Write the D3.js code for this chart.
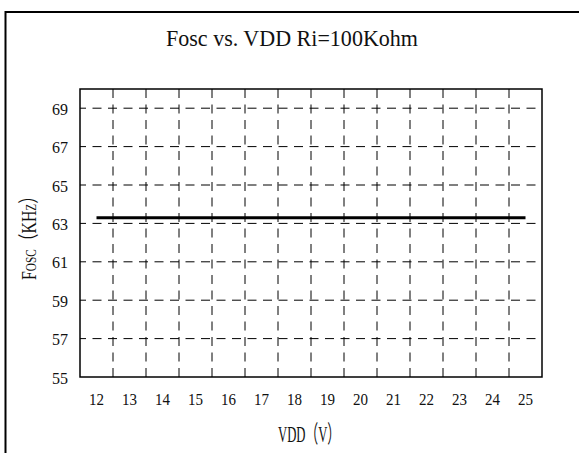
<!DOCTYPE html>
<html>
<head>
<meta charset="utf-8">
<title>Fosc vs. VDD</title>
<script src="https://cdn.jsdelivr.net/npm/d3@7"></script>
<style>
  html, body { margin: 0; padding: 0; background: #fff; }
  svg { display: block; }
  text { font-family: "Liberation Serif", "DejaVu Serif", "Noto Sans CJK SC", serif; fill: #111; }
</style>
</head>
<body>
<svg id="chart" width="579" height="453"></svg>
<script>
const vddCategories = [12, 13, 14, 15, 16, 17, 18, 19, 20, 21, 22, 23, 24, 25];
const foscValues = [63.3, 63.3, 63.3, 63.3, 63.3, 63.3, 63.3, 63.3, 63.3, 63.3, 63.3, 63.3, 63.3, 63.3];
const yTickValues = [55, 57, 59, 61, 63, 65, 67, 69];
const yDomain = [55, 70];
const titleText = "Fosc vs. VDD Ri=100Kohm";
const xLabelText = "VDD（V）";
const yLabelText = "Fosc（KHz）";

(function () {
  "use strict";

  const svg = d3.select("#chart");
  const plot = { left: 80, right: 542, top: 89, bottom: 377 };

  const x = d3.scaleBand().domain(vddCategories).range([plot.left, plot.right]).padding(0);
  const y = d3.scaleLinear().domain(yDomain).range([plot.bottom, plot.top]);

  // outer frame (runs off the right / bottom of the picture)
  svg.append("rect")
    .attr("x", 5.5).attr("y", 12)
    .attr("width", 620).attr("height", 500)
    .attr("fill", "none").attr("stroke", "#000").attr("stroke-width", 2);

  svg.append("text")
    .attr("x", 166).attr("y", 45.5)
    .attr("font-size", 23)
    .attr("textLength", 252)
    .attr("lengthAdjust", "spacingAndGlyphs")
    .text(titleText);

  // horizontal dashed grid
  svg.append("g")
    .selectAll("line")
    .data(yTickValues.filter((v) => v !== yDomain[0]))
    .enter()
    .append("line")
    .attr("x1", plot.left).attr("x2", plot.right)
    .attr("y1", (d) => y(d)).attr("y2", (d) => y(d))
    .attr("stroke", "#000").attr("stroke-width", 1)
    .attr("stroke-dasharray", "9,6.5")
    .attr("stroke-dashoffset", 3);

  // vertical dashed grid on category boundaries
  const bounds = vddCategories.slice(1).map((c) => x(c));
  svg.append("g")
    .selectAll("line")
    .data(bounds)
    .enter()
    .append("line")
    .attr("x1", (d) => d).attr("x2", (d) => d)
    .attr("y1", plot.bottom).attr("y2", plot.top)
    .attr("stroke", "#000").attr("stroke-width", 1)
    .attr("stroke-dasharray", "9,6.5");

  // plot border
  svg.append("rect")
    .attr("x", plot.left).attr("y", plot.top)
    .attr("width", plot.right - plot.left).attr("height", plot.bottom - plot.top)
    .attr("fill", "none").attr("stroke", "#000").attr("stroke-width", 1.5);

  // y tick labels
  const yAxis = d3.axisLeft(y).tickValues(yTickValues).tickSize(0).tickPadding(12);
  const yG = svg.append("g").attr("transform", `translate(${plot.left},0)`).call(yAxis);
  yG.select(".domain").remove();
  yG.selectAll("text")
    .attr("font-family", null)
    .attr("font-size", 17)
    .attr("dy", "0.36em")
    .attr("textLength", 16)
    .attr("lengthAdjust", "spacingAndGlyphs");

  // x tick labels at category centres
  const xAxis = d3.axisBottom(x).tickSize(0).tickPadding(16);
  const xG = svg.append("g").attr("transform", `translate(0,${plot.bottom})`).call(xAxis);
  xG.select(".domain").remove();
  xG.selectAll("text")
    .attr("font-family", null)
    .attr("font-size", 17)
    .attr("dy", "0.72em")
    .attr("textLength", 15)
    .attr("lengthAdjust", "spacingAndGlyphs");

  // data line
  const line = d3.line()
    .x((d, i) => x(vddCategories[i]) + x.bandwidth() / 2)
    .y((d) => y(d));
  svg.append("path")
    .datum(foscValues)
    .attr("d", line)
    .attr("fill", "none")
    .attr("stroke", "#000")
    .attr("stroke-width", 3);

  svg.append("text")
    .attr("x", 309).attr("y", 442)
    .attr("text-anchor", "middle")
    .attr("font-size", 24)
    .attr("textLength", 62)
    .attr("lengthAdjust", "spacingAndGlyphs")
    .text(xLabelText);

  svg.append("text")
    .attr("transform", "translate(36,234) rotate(-90)")
    .attr("text-anchor", "middle")
    .attr("font-size", 21)
    .attr("font-variant", "small-caps")
    .attr("textLength", 92)
    .attr("lengthAdjust", "spacingAndGlyphs")
    .text(yLabelText);
})();
</script>
</body>
</html>
